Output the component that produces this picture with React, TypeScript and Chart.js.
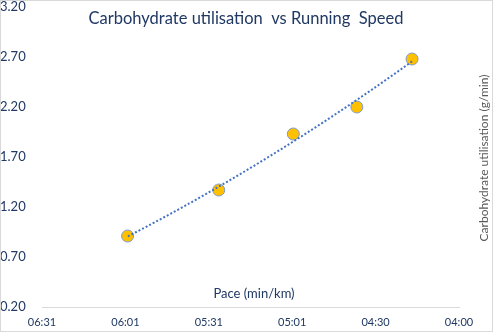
import React, { useEffect, useRef } from "react";
import { Chart, registerables } from "chart.js";

Chart.register(...registerables);

// Data (pace in seconds per km, carbohydrate utilisation in g/min)
const paceSeconds = [360, 327, 300, 277, 257];
const carbUse = [0.91, 1.37, 1.93, 2.2, 2.68];

// Axis ticks
const xTickValues = [391, 360.8, 330.6, 300.4, 270.2, 240];
const xTickLabels = ["06:31", "06:01", "05:31", "05:01", "04:30", "04:00"];
const yMin = 0.2;
const yMax = 3.2;
const yStep = 0.5;

const titleText = "Carbohydrate utilisation  vs Running  Speed";
const xTitleText = "Pace (min/km)";
const yTitleText = "Carbohydrate utilisation (g/min)";

// Quadratic least-squares trendline computed from the data
function quadFit(xs: number[], ys: number[]) {
  const n = xs.length;
  let s0 = n, s1 = 0, s2 = 0, s3 = 0, s4 = 0, t0 = 0, t1 = 0, t2 = 0;
  for (let i = 0; i < n; i++) {
    const x = xs[i], y = ys[i];
    s1 += x; s2 += x * x; s3 += x * x * x; s4 += x * x * x * x;
    t0 += y; t1 += x * y; t2 += x * x * y;
  }
  const A = [
    [s0, s1, s2, t0],
    [s1, s2, s3, t1],
    [s2, s3, s4, t2],
  ];
  for (let c = 0; c < 3; c++) {
    let p = c;
    for (let r = c + 1; r < 3; r++) if (Math.abs(A[r][c]) > Math.abs(A[p][c])) p = r;
    [A[c], A[p]] = [A[p], A[c]];
    for (let r = 0; r < 3; r++) {
      if (r === c) continue;
      const f = A[r][c] / A[c][c];
      for (let k = c; k < 4; k++) A[r][k] -= f * A[c][k];
    }
  }
  return [A[0][3] / A[0][0], A[1][3] / A[1][1], A[2][3] / A[2][2]];
}

const fit = quadFit(paceSeconds, carbUse);
const xLo = Math.min(...paceSeconds);
const xHi = Math.max(...paceSeconds);
const trendPoints: { x: number; y: number }[] = [];
for (let i = 0; i <= 60; i++) {
  const x = xLo + ((xHi - xLo) * i) / 60;
  trendPoints.push({ x, y: fit[0] + fit[1] * x + fit[2] * x * x });
}

const FONT = "Lato, 'Open Sans', sans-serif";

const overlayPlugin = {
  id: "overlay",
  afterDraw(chart: any) {
    const ctx = chart.ctx as CanvasRenderingContext2D;
    const { width, height } = chart;
    ctx.save();
    // outer border
    ctx.strokeStyle = "#D9D9D9";
    ctx.lineWidth = 1;
    ctx.strokeRect(0.5, 0.5, width - 1, height - 1);
    // title
    ctx.fillStyle = "#203864";
    ctx.font = `16.5px ${FONT}`;
    ctx.textAlign = "center";
    ctx.textBaseline = "middle";
    ctx.fillText(titleText, 246, 19);
    // x axis title
    ctx.font = `13px ${FONT}`;
    ctx.fillText(xTitleText, 254, 294);
    // y axis title (right, rotated)
    ctx.fillStyle = "#595959";
    ctx.font = `12px ${FONT}`;
    ctx.translate(484, 158);
    ctx.rotate(-Math.PI / 2);
    ctx.fillText(yTitleText, 0, 0);
    ctx.restore();
  },
};

export default function App() {
  const ref = useRef<HTMLCanvasElement>(null);
  useEffect(() => {
    document.body.style.margin = "0";
    const chart = new Chart(ref.current!, {
      type: "scatter",
      data: {
        datasets: [
          {
            label: "Trend",
            data: trendPoints,
            showLine: true,
            borderColor: "#4472C4",
            borderWidth: 2,
            borderDash: [2, 2],
            pointRadius: 0,
            fill: false,
          } as any,
          {
            label: "Carbohydrate utilisation",
            data: paceSeconds.map((x, i) => ({ x, y: carbUse[i] })),
            backgroundColor: "#FFC000",
            borderColor: "#7E9BCB",
            borderWidth: 1,
            pointRadius: 6,
          },
        ],
      },
      options: {
        responsive: false,
        animation: false,
        devicePixelRatio: 1,
        layout: { padding: { left: 0, right: 34, top: 7, bottom: 0 } },
        plugins: {
          legend: { display: false },
          tooltip: { enabled: false },
          title: { display: false },
        },
        scales: {
          x: {
            type: "linear",
            reverse: true,
            min: 240,
            max: 391,
            grid: { display: false, drawTicks: false },
            border: { display: true, color: "#D9D9D9", width: 1 },
            afterBuildTicks: (scale: any) => {
              scale.ticks = xTickValues.map((v) => ({ value: v }));
            },
            afterFit: (scale: any) => {
              scale.height = 25;
              scale.paddingLeft = 0;
              scale.paddingRight = 0;
            },
            ticks: {
              autoSkip: false,
              maxRotation: 0,
              padding: 9,
              color: "#1F3864",
              font: { family: FONT, size: 11 },
              callback: (_v: any, i: number) => xTickLabels[i],
            },
          },
          y: {
            min: yMin,
            max: yMax,
            grid: { display: false, drawTicks: false },
            border: { display: false },
            afterFit: (scale: any) => {
              scale.width = 42;
              scale.paddingTop = 0;
              scale.paddingBottom = 0;
            },
            ticks: {
              stepSize: yStep,
              crossAlign: "far",
              padding: 4,
              color: "#1F3864",
              font: { family: FONT, size: 13 },
              callback: (v: any) => Number(v).toFixed(2),
            },
          },
        },
      },
      plugins: [overlayPlugin],
    });
    return () => chart.destroy();
  }, []);
  return (
    <div style={{ width: 493, height: 332 }}>
      <canvas ref={ref} width={493} height={332} style={{ display: "block" }} />
    </div>
  );
}
